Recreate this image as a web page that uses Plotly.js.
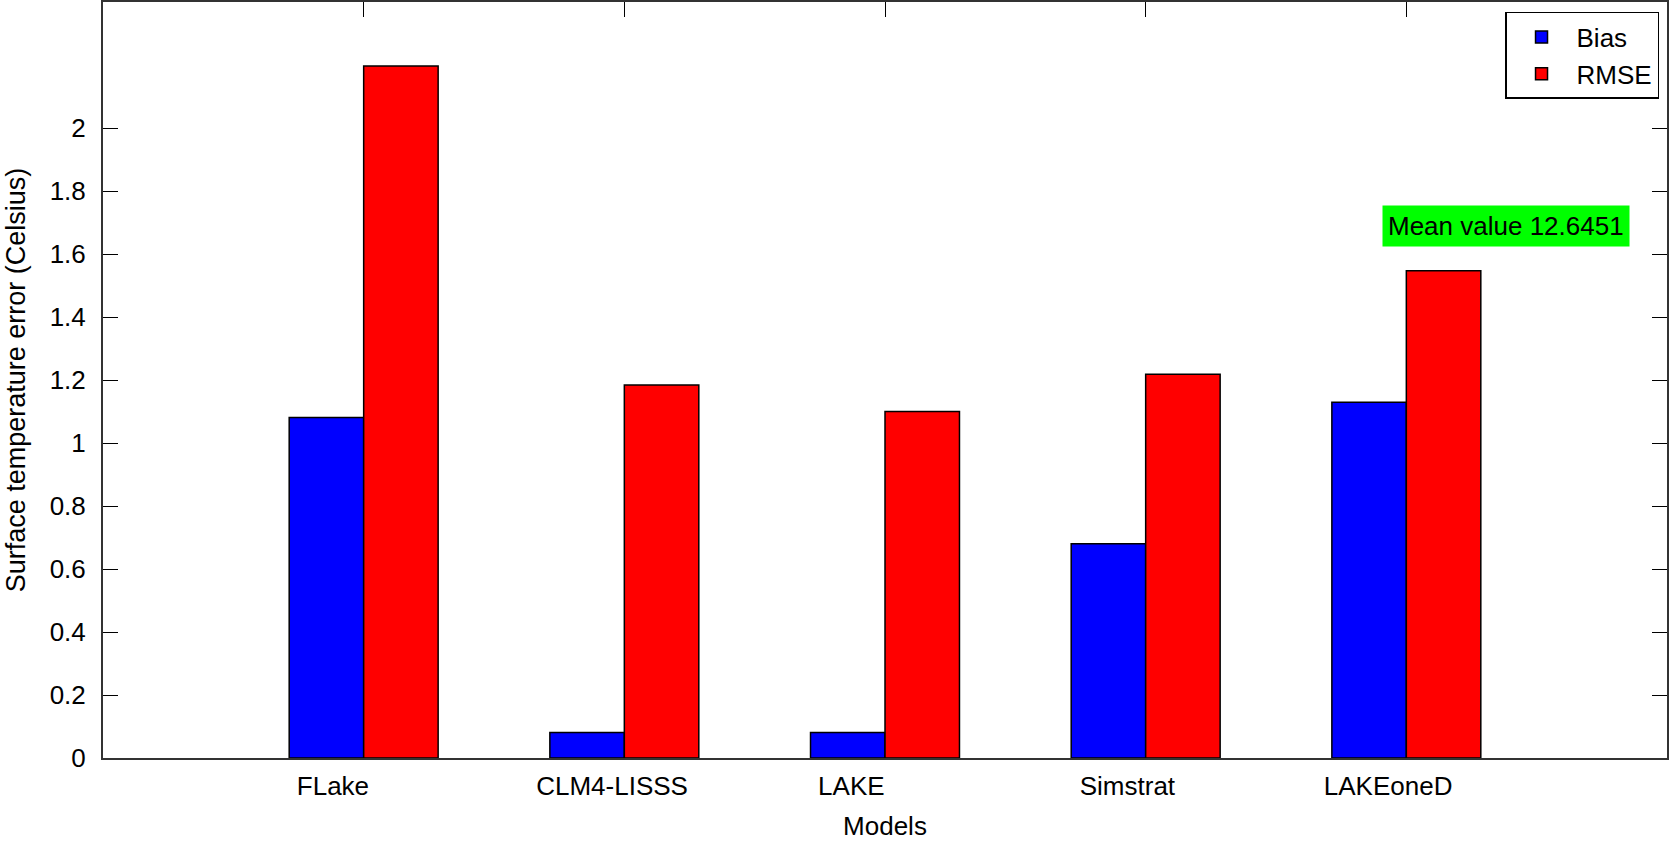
<!DOCTYPE html>
<html>
<head>
<meta charset="utf-8">
<script src="https://cdn.plot.ly/plotly-3.0.1.min.js"></script>
<style>
  html, body { margin: 0; padding: 0; background: #fff; }
  #chart { width: 1669px; height: 841px; }
</style>
</head>
<body>
<div id="chart"></div>
<script>
// models and where their labels sit along the x axis
const models = ['FLake', 'CLM4-LISSS', 'LAKE', 'Simstrat', 'LAKEoneD'];
const groupPos = [1, 2, 3, 4, 5];
const labelPos = [0.882, 1.953, 2.871, 3.93, 4.93];

// errors (Celsius)
const bias = [1.081, 0.081, 0.081, 0.680, 1.129];
const rmse = [2.197, 1.184, 1.100, 1.218, 1.547];

const yTicks = [0, 0.2, 0.4, 0.6, 0.8, 1, 1.2, 1.4, 1.6, 1.8, 2];
const yTickText = ['0', '0.2', '0.4', '0.6', '0.8', '1', '1.2', '1.4', '1.6', '1.8', '2'];

const meanLabel = 'Mean value 12.6451';

const font = "'Liberation Sans', Arial, sans-serif";
const barW = 2 / 7;

const data = [
    {
        x: groupPos,
        y: bias,
        type: 'bar',
        name: 'Bias',
        width: barW,
        offset: -barW,
        marker: { color: '#0000ff', line: { color: '#000', width: 1.5 } },
    },
    {
        x: groupPos,
        y: rmse,
        type: 'bar',
        name: 'RMSE',
        width: barW,
        offset: 0,
        marker: { color: '#ff0000', line: { color: '#000', width: 1.5 } },
    },
    {
        // carries the top tick marks at the group centres
        x: groupPos,
        y: groupPos.map(() => null),
        xaxis: 'x2',
        type: 'scatter',
        mode: 'markers',
        showlegend: false,
        hoverinfo: 'skip',
    },
];

const layout = {
    width: 1669,
    height: 841,
    margin: { l: 103, r: 2, t: 2, b: 83 },
    paper_bgcolor: '#fff',
    plot_bgcolor: '#fff',
    font: { family: font, size: 26, color: '#000' },
    barmode: 'overlay',
    showlegend: true,
    legend: {
        x: 0.9949,
        y: 0.9868,
        xanchor: 'right',
        yanchor: 'top',
        bordercolor: '#000',
        borderwidth: 1.5,
        bgcolor: '#fff',
        font: { family: font, size: 26 },
        itemwidth: 60,
        tracegroupgap: 0,
    },
    xaxis: {
        range: [0, 6],
        tickvals: labelPos,
        ticktext: models,
        ticks: '',
        showgrid: false,
        zeroline: false,
        showline: true,
        linecolor: '#333',
        linewidth: 2,
        mirror: true,
        ticklabelstandoff: 4,
        tickfont: { family: font, size: 26 },
        title: { text: 'Models', font: { family: font, size: 26 }, standoff: 30 },
    },
    xaxis2: {
        overlaying: 'x',
        side: 'top',
        range: [0, 6],
        tickvals: groupPos,
        ticks: 'inside',
        ticklen: 15,
        tickcolor: '#000',
        showticklabels: false,
        showgrid: false,
        zeroline: false,
        showline: false,
    },
    yaxis: {
        range: [0, 2.4],
        tickvals: yTicks,
        ticktext: yTickText,
        ticks: 'inside',
        ticklen: 15,
        tickcolor: '#000',
        showgrid: false,
        zeroline: false,
        showline: true,
        linecolor: '#333',
        linewidth: 2,
        mirror: 'ticks',
        ticklabelstandoff: 10,
        tickfont: { family: font, size: 26 },
        title: {
            text: 'Surface temperature error (Celsius)',
            font: { family: font, size: 27 },
            standoff: 16,
        },
    },
    annotations: [
        {
            x: 5.384,
            y: 1.688,
            xref: 'x',
            yref: 'y',
            text: meanLabel,
            showarrow: false,
            bgcolor: '#00ff00',
            borderpad: 5,
            font: { family: font, size: 26, color: '#000' },
        },
    ],
};

Plotly.newPlot('chart', data, layout, { displayModeBar: false, staticPlot: true });
</script>
</body>
</html>
